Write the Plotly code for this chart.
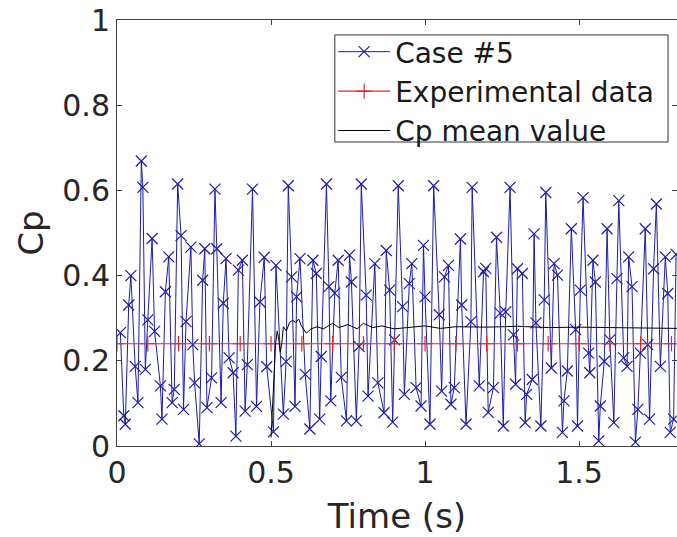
import plotly.graph_objects as go

# Case #5 (blue, x markers)
case_t = [0.011, 0.022, 0.027, 0.038, 0.045, 0.059, 0.068, 0.079, 0.084, 0.092,
          0.100, 0.114, 0.122, 0.141, 0.146, 0.157, 0.168, 0.179, 0.186, 0.197,
          0.208, 0.216, 0.224, 0.240, 0.246, 0.252, 0.267, 0.278, 0.285, 0.292,
          0.307, 0.318, 0.324, 0.338, 0.345, 0.354, 0.364, 0.377, 0.386, 0.394,
          0.407, 0.416, 0.423, 0.440, 0.453, 0.464, 0.478, 0.486, 0.508, 0.516,
          0.540, 0.549, 0.556, 0.567, 0.578, 0.583, 0.594, 0.611, 0.626, 0.636,
          0.647, 0.658, 0.663, 0.680, 0.688, 0.694, 0.707, 0.718, 0.728, 0.745,
          0.755, 0.761, 0.777, 0.786, 0.793, 0.809, 0.815, 0.837, 0.847, 0.867,
          0.874, 0.885, 0.895, 0.901, 0.913, 0.927, 0.933, 0.949, 0.957, 0.971,
          0.987, 0.995, 1.000, 1.016, 1.028, 1.046, 1.054, 1.063, 1.076, 1.084,
          1.095, 1.115, 1.119, 1.133, 1.149, 1.153, 1.176, 1.190, 1.197, 1.205,
          1.222, 1.232, 1.244, 1.254, 1.262, 1.276, 1.287, 1.294, 1.300, 1.316,
          1.325, 1.330, 1.348, 1.354, 1.360, 1.376, 1.387, 1.392, 1.410, 1.419,
          1.430, 1.446, 1.451, 1.462, 1.475, 1.489, 1.495, 1.504, 1.513, 1.531,
          1.535, 1.545, 1.553, 1.564, 1.569, 1.582, 1.591, 1.600, 1.613, 1.623,
          1.629, 1.645, 1.656, 1.661, 1.672, 1.683, 1.691, 1.699, 1.715, 1.723,
          1.729, 1.742, 1.751, 1.764, 1.780, 1.788, 1.796, 1.807, 1.815]
case_cp = [0.266, 0.071, 0.051, 0.331, 0.400, 0.187, 0.102, 0.669, 0.607, 0.180,
           0.296, 0.487, 0.269, 0.141, 0.063, 0.362, 0.444, 0.102, 0.133, 0.615,
           0.494, 0.086, 0.292, 0.467, 0.238, 0.148, 0.005, 0.389, 0.463, 0.090,
           0.160, 0.603, 0.463, 0.102, 0.335, 0.440, 0.207, 0.172, 0.023, 0.413,
           0.436, 0.082, 0.191, 0.603, 0.093, 0.338, 0.443, 0.186, 0.033, 0.424,
           0.075, 0.198, 0.611, 0.397, 0.093, 0.350, 0.440, 0.168, 0.040, 0.436,
           0.405, 0.063, 0.210, 0.615, 0.374, 0.106, 0.359, 0.436, 0.161, 0.059,
           0.448, 0.385, 0.059, 0.234, 0.615, 0.354, 0.117, 0.428, 0.148, 0.078,
           0.459, 0.366, 0.056, 0.249, 0.611, 0.327, 0.121, 0.381, 0.428, 0.137,
           0.094, 0.471, 0.350, 0.051, 0.611, 0.308, 0.129, 0.397, 0.424, 0.098,
           0.137, 0.486, 0.331, 0.051, 0.292, 0.607, 0.141, 0.409, 0.417, 0.079,
           0.137, 0.490, 0.312, 0.047, 0.315, 0.607, 0.261, 0.145, 0.416, 0.405,
           0.055, 0.121, 0.156, 0.498, 0.289, 0.047, 0.343, 0.595, 0.183, 0.428,
           0.401, 0.032, 0.106, 0.176, 0.510, 0.273, 0.047, 0.366, 0.583, 0.218,
           0.172, 0.436, 0.385, 0.012, 0.094, 0.199, 0.510, 0.249, 0.055, 0.393,
           0.576, 0.207, 0.187, 0.444, 0.374, 0.009, 0.086, 0.218, 0.510, 0.238,
           0.063, 0.416, 0.568, 0.187, 0.444, 0.358, 0.032, 0.063, 0.450]

# Experimental data (red, + markers)
exp_t = [0.0, 0.1, 0.2, 0.3, 0.4, 0.5, 0.6, 0.7, 0.8, 0.9, 1.0,
         1.1, 1.2, 1.3, 1.4, 1.5, 1.6, 1.7, 1.8, 1.9]
exp_cp = [0.24, 0.24, 0.24, 0.24, 0.24, 0.24, 0.24, 0.24, 0.24, 0.24, 0.24,
          0.24, 0.24, 0.24, 0.24, 0.24, 0.24, 0.24, 0.24, 0.24]

# Cp mean value (black)
mean_t = [0.500, 0.505, 0.510, 0.515, 0.520, 0.525, 0.530, 0.535, 0.540, 0.550,
          0.560, 0.570, 0.580, 0.590, 0.600, 0.615, 0.630, 0.650, 0.670, 0.700,
          0.720, 0.750, 0.780, 0.800, 0.830, 0.860, 0.900, 0.950, 1.000, 1.050,
          1.100, 1.200, 1.300, 1.400, 1.500, 1.600, 1.700, 1.800, 1.820]
mean_cp = [0.020, 0.100, 0.180, 0.240, 0.270, 0.250, 0.220, 0.240, 0.280, 0.270,
           0.290, 0.295, 0.290, 0.298, 0.280, 0.265, 0.275, 0.280, 0.275, 0.288,
           0.278, 0.285, 0.275, 0.288, 0.278, 0.282, 0.275, 0.278, 0.282, 0.276,
           0.280, 0.279, 0.281, 0.278, 0.279, 0.278, 0.277, 0.276, 0.276]

x_ticks = [0, 0.5, 1, 1.5]
x_tick_text = ["0", "0.5", "1", "1.5"]
y_ticks = [0, 0.2, 0.4, 0.6, 0.8, 1]
y_tick_text = ["0", "0.2", "0.4", "0.6", "0.8", "1"]

FONT = "DejaVu Sans"
AX = "#404040"
TXT = "#262626"

fig = go.Figure()
fig.add_trace(go.Scatter(
    x=case_t, y=case_cp, mode="lines+markers", name="Case #5",
    line=dict(color="#1c1ca8", width=1),
    marker=dict(symbol="x-thin", size=11, line=dict(color="#1c1ca8", width=1.2)),
))
fig.add_trace(go.Scatter(
    x=exp_t, y=exp_cp, mode="lines+markers", name="Experimental data",
    line=dict(color="#e02828", width=1.2),
    marker=dict(symbol="cross-thin", size=11, line=dict(color="#e02828", width=1.2)),
))
fig.add_trace(go.Scatter(
    x=mean_t, y=mean_cp, mode="lines", name="Cp mean value",
    line=dict(color="black", width=1),
))

# legend frame (white box with border), drawn above the data
fig.add_shape(
    type="rect", xref="paper", yref="paper",
    x0=0.389, x1=0.984, y0=0.7136, y1=0.965,
    fillcolor="white", line=dict(color="#333333", width=1), layer="above",
)

fig.update_layout(
    width=677, height=537,
    margin=dict(l=117, r=0, t=20, b=91, autoexpand=False),
    paper_bgcolor="white", plot_bgcolor="white",
    font=dict(family=FONT, color=TXT, size=30),
    showlegend=True,
    legend=dict(
        x=0.386, y=0.9836, xanchor="left", yanchor="top",
        bgcolor="rgba(0,0,0,0)", borderwidth=0,
        font=dict(family=FONT, size=28, color="#1a1a1a"),
        tracegroupgap=0, itemwidth=52,
    ),
    xaxis=dict(
        range=[0, 1.818], tickvals=x_ticks, ticktext=x_tick_text,
        automargin=False,
        showgrid=False, zeroline=False, showline=True, linecolor=AX, linewidth=1,
        mirror="ticks", ticks="inside", ticklen=5, tickcolor=AX,
        tickfont=dict(family=FONT, size=30, color=TXT),
        title=dict(text="Time (s)", font=dict(family=FONT, size=34, color=TXT), standoff=15),
    ),
    yaxis=dict(
        range=[0, 1], tickvals=y_ticks, ticktext=y_tick_text,
        automargin=False,
        showgrid=False, zeroline=False, showline=True, linecolor=AX, linewidth=1,
        mirror="ticks", ticks="inside", ticklen=5, tickcolor=AX,
        tickfont=dict(family=FONT, size=30, color=TXT),
        title=dict(text="Cp", font=dict(family=FONT, size=34, color=TXT), standoff=8),
    ),
)

fig.write_html(
    "out.html",
    config={"displayModeBar": False},
    post_script="document.body.style.margin='0';document.body.style.overflow='hidden';",
)
